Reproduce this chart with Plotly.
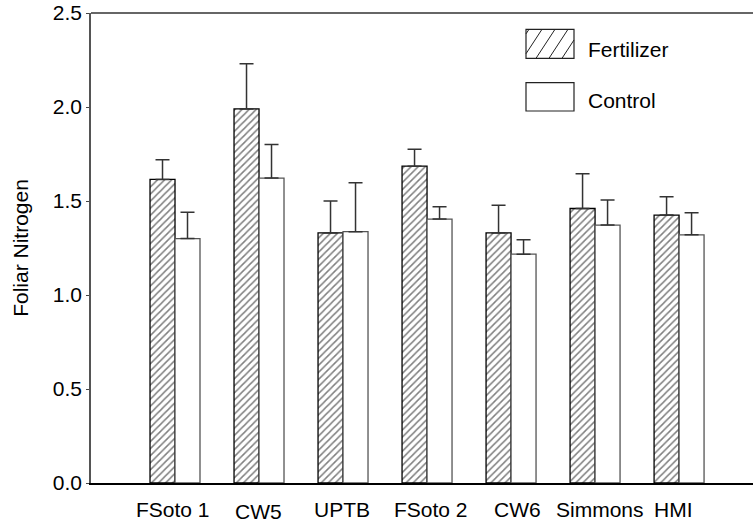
import plotly.graph_objects as go

categories = ["FSoto 1", "CW5", "UPTB", "FSoto 2", "CW6", "Simmons", "HMI"]
fertilizer = [1.615, 1.99, 1.33, 1.685, 1.33, 1.46, 1.425]
fertilizer_err = [0.105, 0.24, 0.17, 0.09, 0.147, 0.185, 0.097]
control = [1.30, 1.622, 1.337, 1.404, 1.217, 1.372, 1.32]
control_err = [0.14, 0.178, 0.26, 0.066, 0.077, 0.133, 0.118]
series_names = ["Fertilizer", "Control"]
y_ticks = [0.0, 0.5, 1.0, 1.5, 2.0, 2.5]

W, H = 753, 525
L, R, T, B = 91, 753, 13, 483
FONT = "Arial, 'Liberation Sans', sans-serif"

def xp(px):
    return (px - L) / (R - L)

def yp(py):
    return 1 - (py - T) / (B - T)

fig = go.Figure()
fig.add_trace(go.Bar(
    x=categories, y=fertilizer, name=series_names[0],
    marker=dict(color="white", line=dict(color="black", width=1.3),
                pattern=dict(shape="/", fgcolor="black", bgcolor="white", size=5, solidity=0.3)),
    error_y=dict(type="data", array=fertilizer_err, arrayminus=[0]*len(categories),
                 symmetric=False, color="#333", thickness=1.5, width=7),
    showlegend=False,
))
fig.add_trace(go.Bar(
    x=categories, y=control, name=series_names[1],
    marker=dict(color="white", line=dict(color="#555", width=1.3)),
    error_y=dict(type="data", array=control_err, arrayminus=[0]*len(categories),
                 symmetric=False, color="#333", thickness=1.5, width=7),
    showlegend=False,
))

shapes = []
# top border line
shapes.append(dict(type="line", xref="paper", yref="paper", x0=0, x1=1, y0=1, y1=1,
                   line=dict(color="#333", width=1.5)))

# legend boxes
box_x0, box_x1 = 526, 574
boxes = [(29.3, 58.3, True), (82.7, 111.0, False)]
for (by0, by1, hatched) in boxes:
    shapes.append(dict(type="rect", xref="paper", yref="paper",
                       x0=xp(box_x0), x1=xp(box_x1), y0=yp(by1), y1=yp(by0),
                       line=dict(color="#222", width=1.2), fillcolor="white"))
    if hatched:
        hgt = by1 - by0
        dx = 19.0
        step = 13.0
        bx = box_x0 - dx + 3
        while bx < box_x1:
            sx, sy = bx, by1
            ex, ey = bx + dx, by0
            if sx < box_x0:
                t = (box_x0 - sx) / dx
                sx, sy = box_x0, by1 - t * hgt
            if ex > box_x1:
                t = (box_x1 - bx) / dx
                ex, ey = box_x1, by1 - t * hgt
            if ex > sx:
                shapes.append(dict(type="line", xref="paper", yref="paper",
                                   x0=xp(sx), x1=xp(ex), y0=yp(sy), y1=yp(ey),
                                   line=dict(color="#222", width=1)))
            bx += step

annotations = []
legend_text_y = [49.5, 100.0]
for name, ty in zip(series_names, legend_text_y):
    annotations.append(dict(text=name, xref="paper", yref="paper", x=xp(586), y=yp(ty),
                            xanchor="left", yanchor="middle", showarrow=False,
                            font=dict(family=FONT, size=21, color="black")))

label_xshift = [-2, -1, -1, 4, 6, 5, -6]
label_yshift = [-26, -28, -26, -26, -26, -26, -26]
for cat, xs, ys in zip(categories, label_xshift, label_yshift):
    annotations.append(dict(text=cat, xref="x", yref="y", x=cat, y=0,
                            xanchor="center", yanchor="middle", xshift=xs, yshift=ys,
                            showarrow=False, font=dict(family=FONT, size=21, color="black")))

fig.update_layout(
    width=W, height=H,
    margin=dict(l=L, r=W - R, t=T, b=H - B, pad=0),
    paper_bgcolor="white", plot_bgcolor="white",
    barmode="group", bargap=0.405, bargroupgap=0,
    shapes=shapes, annotations=annotations,
    font=dict(family=FONT, size=21, color="black"),
    xaxis=dict(range=[-1, len(categories) - 0.12], showticklabels=False, ticks="",
               showline=True, linecolor="black", linewidth=2, showgrid=False,
               zeroline=False, fixedrange=True),
    yaxis=dict(range=[0, 2.5], tickvals=y_ticks, ticktext=[f"{v:.1f}" for v in y_ticks],
               ticks="outside", ticklen=3, tickcolor="#444", tickwidth=1,
               showline=True, linecolor="#555", linewidth=1.5, showgrid=False,
               zeroline=False,
               title=dict(text="Foliar Nitrogen", font=dict(family=FONT, size=21), standoff=18),
               tickfont=dict(family=FONT, size=21, color="black")),
)

fig.write_html("out.html")
